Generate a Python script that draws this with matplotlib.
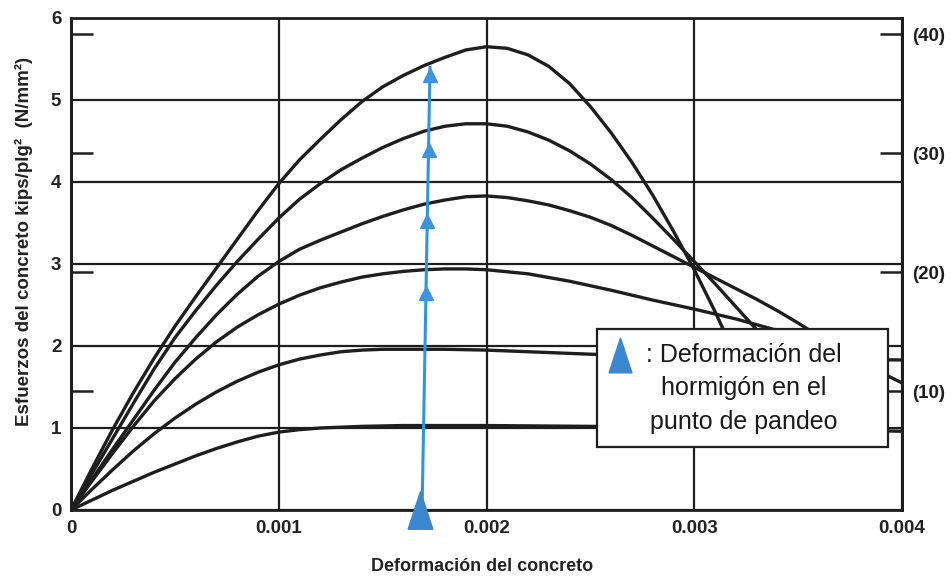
import numpy as np
import matplotlib.pyplot as plt
from matplotlib.patches import Rectangle

# stress-strain curves (strain, stress in kips/plg2)
c1_strain = [0, 0.0001, 0.0002, 0.0003, 0.0004, 0.0005, 0.0006, 0.0007, 0.0008, 0.0009, 0.001,
             0.0011, 0.0012, 0.0013, 0.0014, 0.0016, 0.002, 0.0025, 0.003, 0.0035, 0.004]
c1_stress = [0, 0.12, 0.24, 0.35, 0.46, 0.56, 0.66, 0.75, 0.83, 0.9, 0.95,
             0.98, 1.0, 1.01, 1.02, 1.03, 1.03, 1.02, 1.01, 0.99, 0.96]

c2_strain = [0, 0.0001, 0.0002, 0.0003, 0.0004, 0.0005, 0.0006, 0.0007, 0.0008, 0.0009, 0.001,
             0.0011, 0.0012, 0.0013, 0.0014, 0.0015, 0.0016, 0.0018, 0.002, 0.0025, 0.003, 0.0035, 0.004]
c2_stress = [0, 0.25, 0.49, 0.72, 0.93, 1.12, 1.29, 1.44, 1.57, 1.68, 1.77,
             1.84, 1.89, 1.93, 1.95, 1.96, 1.96, 1.96, 1.95, 1.9, 1.86, 1.84, 1.83]

c3_strain = [0, 0.0001, 0.0002, 0.0003, 0.0004, 0.0005, 0.0006, 0.0007, 0.0008, 0.0009, 0.001,
             0.0011, 0.0012, 0.0013, 0.0014, 0.0015, 0.0016, 0.0017, 0.0018, 0.0019, 0.002,
             0.0022, 0.0024, 0.0026, 0.0028, 0.003, 0.0032, 0.0034, 0.0036, 0.0038, 0.004]
c3_stress = [0, 0.35, 0.69, 1.02, 1.33, 1.6, 1.84, 2.05, 2.23, 2.38, 2.51,
             2.62, 2.71, 2.78, 2.84, 2.88, 2.91, 2.93, 2.94, 2.94, 2.93,
             2.88, 2.79, 2.68, 2.56, 2.45, 2.33, 2.19, 2.02, 1.8, 1.55]

c4_strain = [0, 0.0001, 0.0002, 0.0003, 0.0004, 0.0005, 0.0006, 0.0007, 0.0008, 0.0009, 0.001,
             0.0011, 0.0012, 0.0013, 0.0014, 0.0015, 0.0016, 0.0017, 0.0018, 0.0019, 0.002,
             0.0021, 0.0022, 0.0023, 0.0024, 0.0025, 0.0026, 0.0027, 0.0028, 0.0029, 0.003,
             0.0031, 0.0032, 0.0033, 0.0034, 0.0035, 0.0036, 0.0037, 0.0038]
c4_stress = [0, 0.37, 0.74, 1.1, 1.46, 1.8, 2.1, 2.38, 2.63, 2.85, 3.03,
             3.18, 3.29, 3.39, 3.49, 3.58, 3.66, 3.73, 3.78, 3.82, 3.83,
             3.81, 3.77, 3.72, 3.65, 3.57, 3.47, 3.35, 3.22, 3.09, 2.96,
             2.83, 2.7, 2.57, 2.43, 2.28, 2.12, 1.95, 1.78]

c5_strain = [0, 0.0001, 0.0002, 0.0003, 0.0004, 0.0005, 0.0006, 0.0007, 0.0008, 0.0009, 0.001,
             0.0011, 0.0012, 0.0013, 0.0014, 0.0015, 0.0016, 0.0017, 0.0018, 0.0019, 0.002,
             0.0021, 0.0022, 0.0023, 0.0024, 0.0025, 0.0026, 0.0027, 0.0028, 0.0029, 0.003,
             0.0031, 0.0032, 0.0033, 0.0034, 0.0035]
c5_stress = [0, 0.44, 0.87, 1.3, 1.72, 2.1, 2.43, 2.74, 3.03, 3.3, 3.56,
             3.79, 3.98, 4.15, 4.29, 4.42, 4.53, 4.62, 4.68, 4.71, 4.71,
             4.68, 4.61, 4.51, 4.38, 4.22, 4.03, 3.81, 3.56, 3.3, 3.03,
             2.76, 2.48, 2.2, 1.92, 1.64]

c6_strain = [0, 0.0001, 0.0002, 0.0003, 0.0004, 0.0005, 0.0006, 0.0007, 0.0008, 0.0009, 0.001,
             0.0011, 0.0012, 0.0013, 0.0014, 0.0015, 0.0016, 0.0017, 0.0018, 0.0019, 0.002,
             0.0021, 0.0022, 0.0023, 0.0024, 0.0025, 0.0026, 0.0027, 0.0028, 0.0029, 0.003,
             0.0031, 0.0032, 0.0033]
c6_stress = [0, 0.5, 0.98, 1.43, 1.85, 2.24, 2.6, 2.95, 3.3, 3.65, 3.98,
             4.27, 4.52, 4.76, 4.98, 5.16, 5.3, 5.42, 5.52, 5.61, 5.65,
             5.63, 5.55, 5.41, 5.2, 4.92, 4.6, 4.24, 3.84, 3.4, 2.93,
             2.42, 1.87, 1.28]

curves = [(c1_strain, c1_stress), (c2_strain, c2_stress), (c3_strain, c3_stress),
          (c4_strain, c4_stress), (c5_strain, c5_stress), (c6_strain, c6_stress)]

# buckling points on the blue line
buckle_x = [0.00169, 0.001728]      # bottom / top of the blue line
buckle_top = 5.40
buckle_stress = [2.65, 3.52, 4.39, 5.31]

x_ticks = [0, 0.001, 0.002, 0.003, 0.004]
x_labels = ['0', '0.001', '0.002', '0.003', '0.004']
y_ticks = [0, 1, 2, 3, 4, 5, 6]
si_ticks = [10, 20, 30, 40]
si_labels = ['(10)', '(20)', '(30)', '(40)']
KSI_TO_MPA = 6.895

plt.rcParams['font.family'] = ['Liberation Sans', 'DejaVu Sans']

fig = plt.figure(figsize=(9.51, 5.80), dpi=100)
ax = fig.add_axes([71 / 951, 1 - 510 / 580, 831 / 951, 492 / 580])

for s, f in curves:
    ax.plot(s, f, color='#1e1e1e', lw=2.4, zorder=3, solid_capstyle='round', solid_joinstyle='round')

ax.set_xlim(0, 0.004)
ax.set_ylim(0, 6)
ax.set_xticks(x_ticks)
ax.set_xticklabels(x_labels)
ax.set_yticks(y_ticks)
ax.grid(True, color='#1e1e1e', lw=1.6, zorder=1)
ax.set_axisbelow(True)
ax.tick_params(length=0, labelsize=13.5, pad=7)
for lab in ax.get_xticklabels() + ax.get_yticklabels():
    lab.set_fontweight('bold')
    lab.set_color('#222222')
for sp in ax.spines.values():
    sp.set_linewidth(2)
    sp.set_color('#1e1e1e')

ax.set_xlabel('Deformación del concreto', fontsize=13, fontweight='bold', color='#222222')
ax.xaxis.set_label_coords(0.495, -0.098)
ax.set_ylabel('Esfuerzos del concreto kips/plg²  (N/mm²)', fontsize=13.5, fontweight='bold', color='#222222')
ax.yaxis.set_label_coords(-0.046, 0.545)

# N/mm2 scale: inner ticks on both sides, labels on the right
to_si = (lambda v: v * KSI_TO_MPA, lambda v: v / KSI_TO_MPA)
sec_r = ax.secondary_yaxis('right', functions=to_si)
sec_r.set_yticks(si_ticks)
sec_r.set_yticklabels(si_labels)
sec_r.tick_params(direction='in', length=16, width=1.8, pad=7, labelsize=13.5, colors='#1e1e1e')
for lab in sec_r.get_yticklabels():
    lab.set_fontweight('bold')
sec_r.spines['right'].set_linewidth(2)

sec_l = ax.secondary_yaxis('left', functions=to_si)
sec_l.set_yticks(si_ticks)
sec_l.set_yticklabels([])
sec_l.tick_params(direction='in', length=16, width=1.8, colors='#1e1e1e')
sec_l.spines['left'].set_linewidth(2)

# blue line with buckling markers
blue = '#2f95de'
ax.plot(buckle_x, [0, buckle_top], color=blue, lw=2.2, zorder=4)
bx = np.interp(buckle_stress, [0, buckle_top], buckle_x)
ax.plot(bx, buckle_stress, ls='none', marker='^', ms=9.5, color='#3d94dc', zorder=4)
tall_tri = [(-0.33, -0.5), (0.33, -0.5), (0, 0.5), (-0.33, -0.5)]
ax.plot([buckle_x[0] - 0.00001], [0.0], ls='none', marker=tall_tri, ms=27, color='#3a87cf',
        zorder=6, clip_on=False)

# legend box
ax.add_patch(Rectangle((0.6325, 0.128), 0.351, 0.24, transform=ax.transAxes,
                       facecolor='white', edgecolor='#1e1e1e', lw=1.6, zorder=5))
ax.plot([0.661], [0.315], transform=ax.transAxes, ls='none', marker=tall_tri, ms=25,
        color='#3a87cf', zorder=6)
leg_lines = [': Deformación del', 'hormigón en el', 'punto de pandeo']
leg_y = [0.315, 0.248, 0.179]
for txt, yy in zip(leg_lines, leg_y):
    ax.text(0.81, yy, txt, transform=ax.transAxes, ha='center', va='center',
            fontsize=18, color='#1a1a1a', zorder=6)

fig.savefig('out.png', dpi=100, facecolor='white')
